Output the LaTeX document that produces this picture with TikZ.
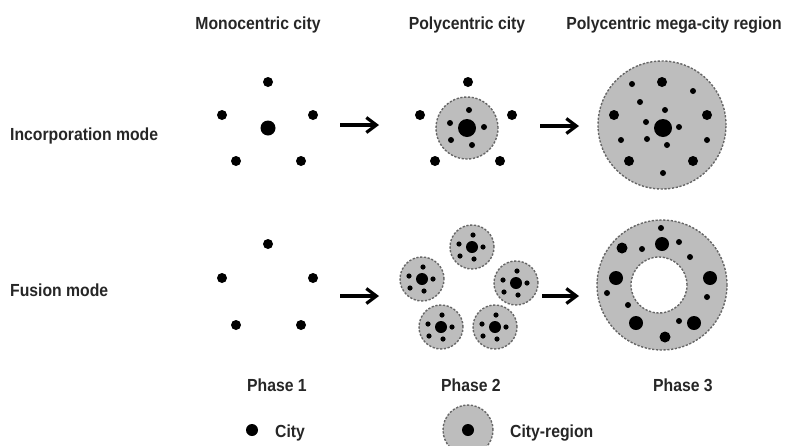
\documentclass[tikz,border=0pt]{standalone}
\usepackage{fontspec}
\setmainfont{Liberation Sans}[FakeStretch=0.9]
\usetikzlibrary{arrows.meta}
\tikzset{
  lab/.style={font=\fontsize{17.5}{20}\selectfont\bfseries, text=black!85, inner sep=0pt},
  region/.style={fill=black!26, draw=black!60, line width=1.4pt, dash pattern=on 2.2pt off 1.6pt},
  city/.style={fill=black},
  flow/.style={line width=3.8pt, -{Straight Barb[length=10pt,width=15pt,line width=3.2pt]}}
}
\begin{document}
\begin{tikzpicture}[x=1pt,y=-1pt]
\useasboundingbox (0,0) rectangle (785,445);
% headers
\node[lab,anchor=base] (h1) at (258,29) {Monocentric city};
\node[lab,anchor=base] (h2) at (467,29) {Polycentric city};
\node[lab,anchor=base] (h3) at (674,29) {Polycentric mega-city region};
% row labels
\node[lab,anchor=base west] (r1) at (10,140) {Incorporation mode};
\node[lab,anchor=base west] (r2) at (10,296) {Fusion mode};
% phase labels
\node[lab,anchor=base] (p1) at (277,391) {Phase 1};
\node[lab,anchor=base] (p2) at (471,391) {Phase 2};
\node[lab,anchor=base] (p3) at (683,391) {Phase 3};

% ---------- Incorporation mode ----------
% phase 1
\foreach \x/\y in {268/82,222/115,313/115,236/161,301/161}
  \fill[city] (\x,\y) circle (5pt);
\fill[city] (268,128) circle (7.5pt);
% phase 2
\filldraw[region] (467,128) circle (31pt);
\foreach \x/\y in {468/82,420/115,512/115,435/161,500/161}
  \fill[city] (\x,\y) circle (5pt);
\fill[city] (467,128) circle (9pt);
\foreach \x/\y in {469/110,450/123,484/127,451/140,472/145}
  \fill[city] (\x,\y) circle (3pt);
% phase 3
\filldraw[region] (662,125) circle (64pt);
\fill[city] (663,128) circle (9pt);
\foreach \x/\y in {662/82,614/115,707/115,629/161,693/161}
  \fill[city] (\x,\y) circle (5pt);
\foreach \x/\y in {632/84,693/91,640/102,665/110,646/122,679/127,621/140,647/139,667/145,707/140,663/173}
  \fill[city] (\x,\y) circle (3pt);

% ---------- Fusion mode ----------
% phase 1
\foreach \x/\y in {268/244,222/278,313/278,236/325,301/325}
  \fill[city] (\x,\y) circle (5pt);
% phase 2
\foreach \cx/\cy in {472/247,422/279,516/283,441/327,495/327}{
  \filldraw[region] (\cx,\cy) circle (22pt);
  \fill[city] (\cx,\cy) circle (6pt);
  \foreach \dx/\dy in {1/-12,-13/-3,11/0,-12/9,2/12}
    \fill[city] (\cx+\dx,\cy+\dy) circle (2.6pt);
}
% phase 3
\fill[black!26, even odd rule] (662,285) circle (65pt) (659,285) circle (28pt);
\draw[region, fill=none] (662,285) circle (65pt);
\draw[region, fill=none] (659,285) circle (28pt);
\foreach \x/\y in {662/244,616/278,710/278,636/323,694/323}
  \fill[city] (\x,\y) circle (7pt);
\foreach \x/\y in {622/248,665/337}
  \fill[city] (\x,\y) circle (5.5pt);
\foreach \x/\y in {661/228,642/249,679/242,690/257,607/293,707/297,628/305,679/321}
  \fill[city] (\x,\y) circle (3pt);

% arrows
\coordinate (a1s) at (340,125); \coordinate (a1e) at (379,125);
\coordinate (a2s) at (540,126); \coordinate (a2e) at (579,126);
\coordinate (b1s) at (340,296); \coordinate (b1e) at (379,296);
\coordinate (b2s) at (542,296); \coordinate (b2e) at (579,296);
\draw[flow] (a1s) -- (a1e);
\draw[flow] (a2s) -- (a2e);
\draw[flow] (b1s) -- (b1e);
\draw[flow] (b2s) -- (b2e);

% legend
\fill[city] (252,430) circle (6pt);
\node[lab,anchor=base west] (lc) at (275,437) {City};
\filldraw[region] (468,430) circle (25pt);
\fill[city] (468,430) circle (6pt);
\node[lab,anchor=base west] (lr) at (510,437) {City-region};
\end{tikzpicture}
\end{document}
